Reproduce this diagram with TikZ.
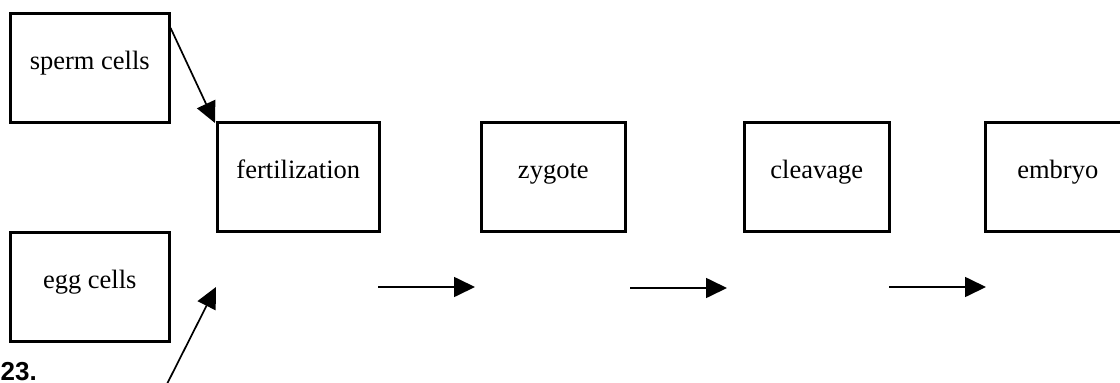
\documentclass[tikz,border=0pt]{standalone}
\usepackage{fontspec}
\setmainfont{Liberation Serif}
\newfontfamily\numfont{Liberation Sans}
\usetikzlibrary{arrows.meta}

\tikzset{
  stagebox/.style={draw, line width=2.6pt, inner sep=0pt, anchor=north west,
    text height=56pt, text depth=53pt, align=center,
    font=\fontsize{26.5}{30}\selectfont},
  flow/.style={line width=1.7pt, -{Triangle[length=21pt, width=20pt]}},
}

\begin{document}
\begin{tikzpicture}[x=1pt, y=-1pt]
  \useasboundingbox (0,0) rectangle (1120,383);

  % stage boxes
  \node[stagebox, minimum width=159pt] (sperm) at (9,12) {sperm cells};
  \node[stagebox, minimum width=159pt] (egg) at (9,231) {egg cells};
  \node[stagebox, minimum width=162pt] (fert) at (216,121) {fertilization};
  \node[stagebox, minimum width=144pt] (zyg) at (480,121) {zygote};
  \node[stagebox, minimum width=145pt] (cleav) at (743,121) {cleavage};
  \node[stagebox, minimum width=145pt] (emb) at (984,121) {embryo};

  % loose arrow ends
  \coordinate (eggfoot) at (166,386);
  \coordinate (eggtip) at (216,287);
  \coordinate (a1s) at (378,287);
  \coordinate (a1e) at (475,287);
  \coordinate (a2s) at (630,288);
  \coordinate (a2e) at (727,288);
  \coordinate (a3s) at (889,287);
  \coordinate (a3e) at (986,287);

  % connectors
  \draw[flow] ([yshift=-16pt]sperm.north east) -- ([shift={(-1pt,-2pt)}]fert.north west);
  \draw[flow] (eggfoot) -- (eggtip);
  \draw[flow] (a1s) -- (a1e);
  \draw[flow] (a2s) -- (a2e);
  \draw[flow] (a3s) -- (a3e);

  % item number
  \node[anchor=base west, inner sep=0pt, font=\numfont\bfseries\fontsize{26}{30}\selectfont] (num) at (0.5,380) {23.};
\end{tikzpicture}
\end{document}
